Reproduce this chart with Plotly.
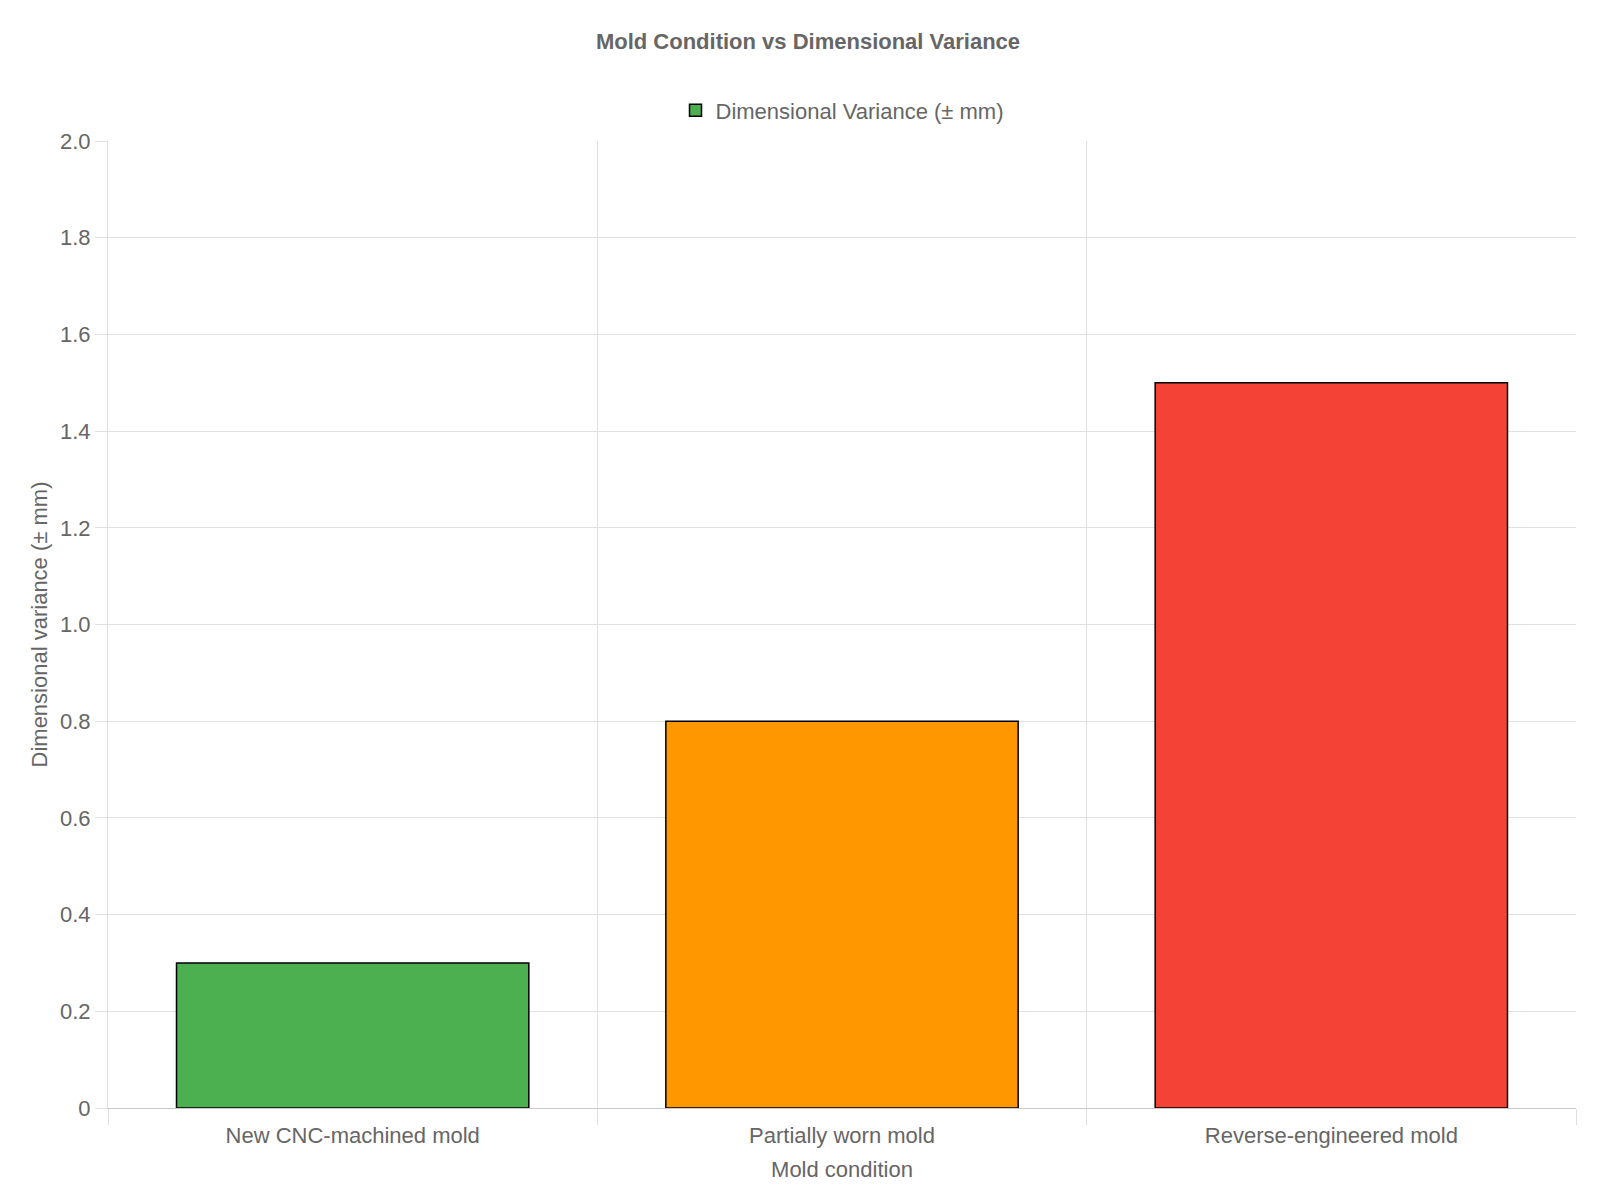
import plotly.graph_objects as go

# data
conditions = ["New CNC-machined mold", "Partially worn mold", "Reverse-engineered mold"]
variance = [0.3, 0.8, 1.5]
bar_colors = ["#4CAF50", "#FF9800", "#F44336"]

fig = go.Figure()
fig.add_trace(go.Bar(
    x=conditions,
    y=variance,
    name="Dimensional Variance (± mm)",
    marker=dict(color=bar_colors, line=dict(color="#000000", width=1.5)),
    width=0.72,
    showlegend=True,
))

fig.update_layout(
    width=1600, height=1200,
    font=dict(family="Liberation Sans, Arial, sans-serif", size=20, color="#666666"),
    title=dict(text="<b>Mold Condition vs Dimensional Variance</b>", x=0.5, y=0.972,
               xanchor="center", yanchor="middle", font=dict(size=22, color="#666666")),
    legend=dict(orientation="h", x=0.5, xanchor="center", y=1.01, yanchor="bottom",
                font=dict(size=22, color="#666666")),
    plot_bgcolor="white", paper_bgcolor="white",
    margin=dict(l=100, r=32, t=133, b=100),
)
fig.update_xaxes(
    tickson="boundaries", showgrid=True, gridcolor="#e0e0e0",
    ticks="outside", ticklen=16, tickcolor="#e0e0e0",
    showline=True, linecolor="#c8c8c8", ticklabelstandoff=8,
    title=dict(text="Mold condition", font=dict(size=22), standoff=14),
    tickfont=dict(size=22),
)
fig.update_yaxes(
    range=[0, 2.0],
    tickvals=[0, 0.2, 0.4, 0.6, 0.8, 1.0, 1.2, 1.4, 1.6, 1.8, 2.0],
    ticktext=["0", "0.2", "0.4", "0.6", "0.8", "1.0", "1.2", "1.4", "1.6", "1.8", "2.0"],
    showgrid=True, gridcolor="#e0e0e0", zeroline=False,
    ticks="outside", ticklen=12, tickcolor="#e0e0e0",
    showline=True, linecolor="#e0e0e0",
    title=dict(text="Dimensional variance (± mm)", font=dict(size=22), standoff=6),
    tickfont=dict(size=22),
)

fig.write_html("out.html")
